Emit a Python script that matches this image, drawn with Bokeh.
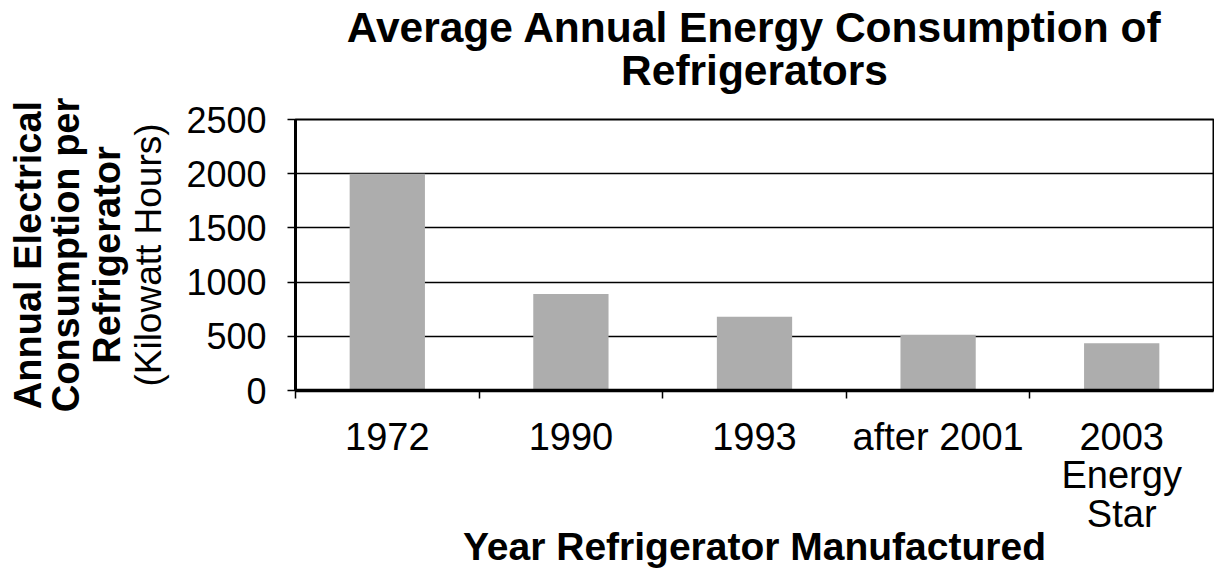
from bokeh.plotting import figure
from bokeh.models import FixedTicker, LinearAxis, Title, Range1d
from bokeh.embed import file_html
from bokeh.resources import INLINE

# ---- data ----
categories = ["1972", "1990", "1993", "after 2001", "2003\nEnergy\nStar"]
consumption_kwh = [2000, 890, 680, 515, 435]
y_ticks = [0, 500, 1000, 1500, 2000, 2500]

title_lines = ["Average Annual Energy Consumption of", "Refrigerators"]
x_title = "Year Refrigerator Manufactured"
y_title_bold = ["Annual Electrical", "Consumption per", "Refrigerator"]
y_title_unit = "(Kilowatt Hours)"

FONT = "Liberation Sans"
BAR = "#adadad"

n = len(categories)
centers = [i + 0.5 for i in range(n)]
bounds = list(range(n))

p = figure(width=1214, height=571, x_range=Range1d(0, n), y_range=Range1d(0, 2500),
           output_backend="svg", toolbar_location=None,
           min_border_left=295, min_border_right=1, min_border_top=119, min_border_bottom=181)

# title: two centred lines (added bottom line first; later ones stack upward)
t2 = Title(text=title_lines[1], align="center", vertical_align="top", text_font=FONT,
           text_font_size="42.5px", text_font_style="bold", standoff=47, text_color="black")
t1 = Title(text=title_lines[0], align="center", vertical_align="bottom", text_font=FONT,
           text_font_size="42.5px", text_font_style="bold", standoff=-55, text_color="black")
p.add_layout(t2, "above")
p.add_layout(t1, "above")

p.vbar(x=centers, top=consumption_kwh, width=0.41, fill_color=BAR, line_color=None)

p.outline_line_color = "black"
p.outline_line_width = 2
p.background_fill_color = "white"
p.border_fill_color = "white"

# y axis
ya = p.yaxis[0]
ya.ticker = FixedTicker(ticks=y_ticks)
ya.axis_line_width = 3
ya.axis_line_color = "black"
ya.major_tick_out = 8
ya.major_tick_in = 0
ya.major_tick_line_width = 1.5
ya.minor_tick_line_color = None
ya.major_label_text_font = FONT
ya.major_label_text_font_size = "36px"
ya.major_label_text_color = "black"
ya.major_label_standoff = 21

p.ygrid.ticker = FixedTicker(ticks=y_ticks)
p.ygrid.grid_line_color = "black"
p.ygrid.grid_line_width = 1.5
p.xgrid.grid_line_color = None

# y axis title: stacked axes with labels only (inner to outer)
def title_axis(text, size, style, standoff):
    ax = LinearAxis(ticker=FixedTicker(ticks=[]))
    ax.axis_line_color = None
    ax.major_tick_line_color = None
    ax.minor_tick_line_color = None
    ax.major_tick_out = 0
    ax.major_label_standoff = 0
    ax.axis_label = text
    ax.axis_label_text_font = FONT
    ax.axis_label_text_font_size = size
    ax.axis_label_text_font_style = style
    ax.axis_label_text_color = "black"
    ax.axis_label_standoff = standoff
    return ax

p.add_layout(title_axis(y_title_unit, "37px", "normal", 15), "left")
p.add_layout(title_axis(y_title_bold[2], "38px", "bold", -3), "left")
p.add_layout(title_axis(y_title_bold[1], "38px", "bold", -4), "left")
p.add_layout(title_axis(y_title_bold[0], "38px", "bold", -7), "left")

# x axis: labels at category centres, minor ticks at category boundaries
xa = p.xaxis[0]
xa.ticker = FixedTicker(ticks=centers, minor_ticks=bounds)
xa.major_label_overrides = {c: lab for c, lab in zip(centers, categories)}
xa.axis_line_width = 3.5
xa.axis_line_color = "black"
xa.major_tick_line_color = None
xa.major_tick_out = 0
xa.major_tick_in = 0
xa.minor_tick_out = 8
xa.minor_tick_in = 0
xa.minor_tick_line_width = 1.5
xa.minor_tick_line_color = "black"
xa.major_label_text_font = FONT
xa.major_label_text_font_size = "38px"
xa.major_label_text_color = "black"
xa.major_label_text_line_height = 0.925
xa.major_label_standoff = 17
xa.axis_label = x_title
xa.axis_label_text_font = FONT
xa.axis_label_text_font_size = "39px"
xa.axis_label_text_font_style = "bold"
xa.axis_label_text_color = "black"
xa.axis_label_standoff = -13

open("out.html", "w").write(file_html(p, INLINE))
